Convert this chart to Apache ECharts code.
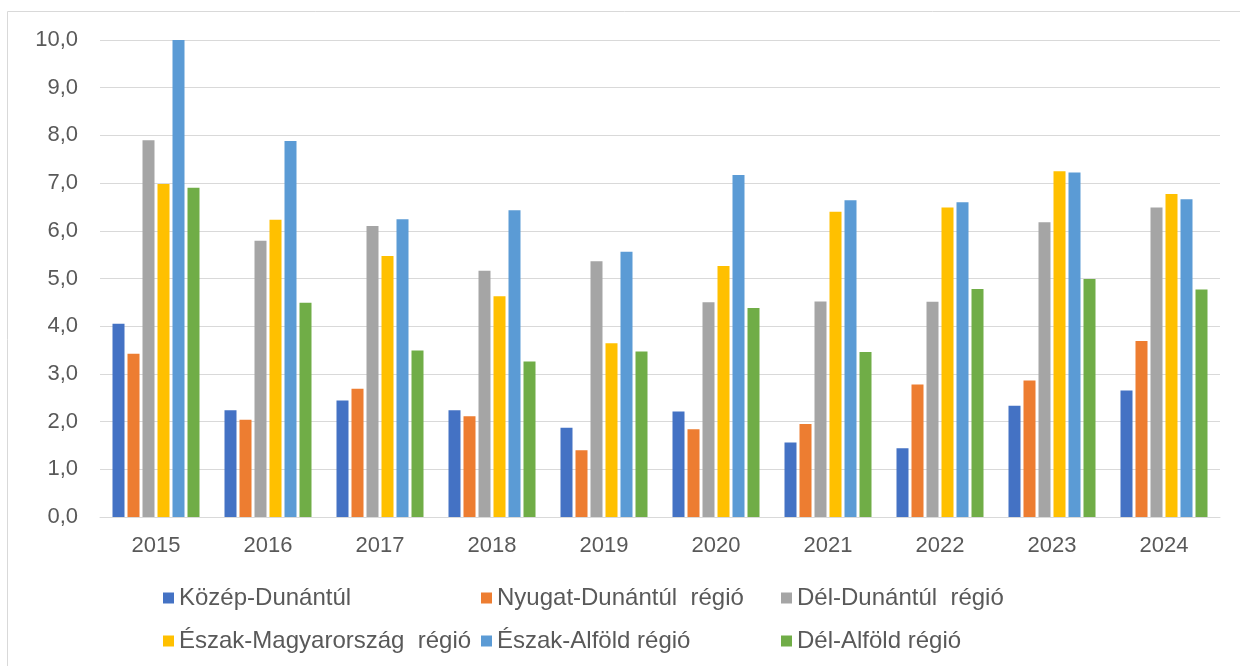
<!DOCTYPE html>
<html>
<head>
<meta charset="utf-8">
<script src="https://cdn.jsdelivr.net/npm/echarts@6/dist/echarts.min.js"></script>
<style>
html,body{margin:0;padding:0;background:#fff;}
#c{width:1240px;height:666px;}
</style>
</head>
<body>
<div id="c"></div>
<script>
const categories = ['2015','2016','2017','2018','2019','2020','2021','2022','2023','2024'];
const seriesNames = ['Közép-Dunántúl','Nyugat-Dunántúl  régió','Dél-Dunántúl  régió','Észak-Magyarország  régió','Észak-Alföld régió','Dél-Alföld régió'];
const kozepDunantul   = [4.05, 2.24, 2.44, 2.24, 1.87, 2.21, 1.56, 1.44, 2.33, 2.65];
const nyugatDunantul  = [3.42, 2.04, 2.69, 2.11, 1.40, 1.84, 1.95, 2.78, 2.86, 3.69];
const delDunantul     = [7.90, 5.79, 6.10, 5.16, 5.36, 4.50, 4.52, 4.51, 6.18, 6.49];
const eszakMagyarorszag = [6.98, 6.23, 5.47, 4.63, 3.64, 5.26, 6.40, 6.49, 7.25, 6.77];
const eszakAlfold     = [10.0, 7.88, 6.24, 6.43, 5.56, 7.17, 6.64, 6.60, 7.22, 6.66];
const delAlfold       = [6.90, 4.49, 3.49, 3.26, 3.47, 4.38, 3.46, 4.78, 4.99, 4.77];
const yTicks = [0,1,2,3,4,5,6,7,8,9,10];

const colors = ['#4472C4','#ED7D31','#A5A5A5','#FFC000','#5B9BD5','#70AD47'];
const allData = [kozepDunantul, nyugatDunantul, delDunantul, eszakMagyarorszag, eszakAlfold, delAlfold];

const FONT = '"Liberation Sans", Arial, sans-serif';

const legendPos = [
  {left:163, top:586},{left:481, top:586},{left:781, top:586},
  {left:163, top:629},{left:481, top:629},{left:781, top:629}
];

const chart = echarts.init(document.getElementById('c'), null, {renderer:'canvas'});
chart.setOption({
  animation:false,
  color: colors,
  textStyle:{fontFamily:FONT},
  graphic:[{type:'rect', shape:{x:7.5,y:11.5,width:1240,height:700}, style:{fill:'none', stroke:'#d9d9d9', lineWidth:1}, silent:true}],
  grid:{left:100, right:20, top:40, bottom:149, containLabel:false},
  legend: seriesNames.map((n,i)=>({
    data:[n], left:legendPos[i].left, top:legendPos[i].top, padding:0,
    icon:'rect', itemWidth:11, itemHeight:11, itemGap:5,
    textStyle:{fontSize:24, color:'#595959', fontFamily:FONT},
    selectedMode:false
  })),
  xAxis:{
    type:'category', data:categories,
    axisLine:{show:true, lineStyle:{color:'#d9d9d9', width:1}},
    axisTick:{show:false},
    axisLabel:{fontSize:22, color:'#595959', margin:18, fontFamily:FONT}
  },
  yAxis:{
    type:'value', min:yTicks[0], max:yTicks[yTicks.length-1], interval:1,
    axisLine:{show:false}, axisTick:{show:false},
    splitLine:{lineStyle:{color:'#d9d9d9', width:1}},
    axisLabel:{fontSize:22, color:'#595959', margin:22, fontFamily:FONT,
      formatter:v=>v.toFixed(1).replace('.',',')}
  },
  series: seriesNames.map((n,i)=>({
    name:n, type:'bar', data:allData[i],
    barWidth:12, barGap:'25%',
    itemStyle:{color:colors[i]}
  }))
});
</script>
</body>
</html>
